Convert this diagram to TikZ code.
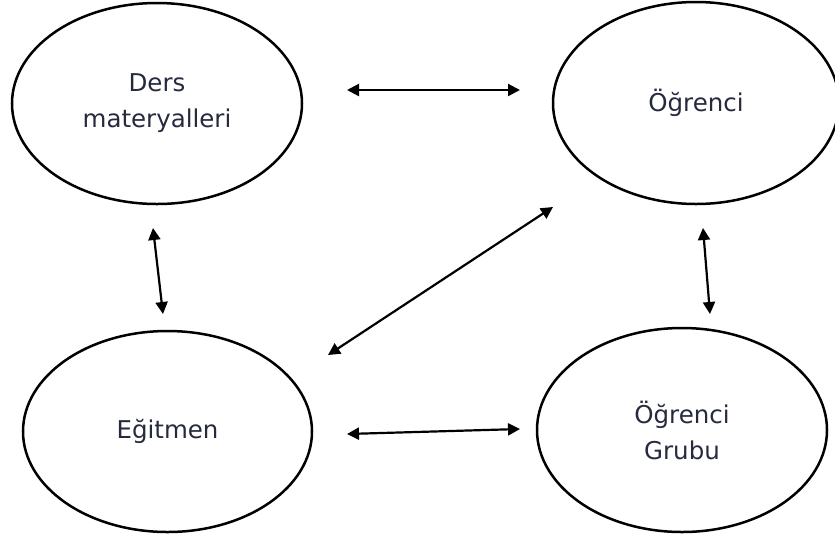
\documentclass[tikz,border=0pt]{standalone}
\usepackage{fontspec}
\setmainfont{DejaVu Sans}
\usetikzlibrary{shapes.geometric,arrows.meta}
\definecolor{txt}{RGB}{38,42,62}
\tikzset{
  oval/.style={draw=black, line width=2.5pt, ellipse, inner sep=0pt, align=center,
    text=txt, font=\fontsize{24.5}{36}\selectfont},
  link/.style={line width=2.2pt, {Triangle[length=12pt,width=12pt]}-{Triangle[length=12pt,width=12pt]}}
}
\begin{document}
\begin{tikzpicture}[x=1pt,y=-1pt]
\useasboundingbox (0,0) rectangle (835,539);
\node[oval, minimum width=290pt, minimum height=201pt] (ders) at (157,103.5) {Ders\\materyalleri};
\node[oval, minimum width=286pt, minimum height=202pt] (ogr) at (696,103) {Öğrenci};
\node[oval, minimum width=289pt, minimum height=201pt] (egt) at (167.5,431.5) {Eğitmen};
\node[oval, minimum width=290pt, minimum height=204pt] (grp) at (682,430) {Öğrenci\\Grubu};
\coordinate (a1) at (347,90);  \coordinate (b1) at (520,90);
\coordinate (a2) at (153,228); \coordinate (b2) at (163,314);
\coordinate (a3) at (703,228); \coordinate (b3) at (710,314);
\coordinate (a4) at (328,355); \coordinate (b4) at (553,207);
\coordinate (a5) at (347,434); \coordinate (b5) at (520,429);
\draw[link] (a1) -- (b1);
\draw[link] (a2) -- (b2);
\draw[link] (a3) -- (b3);
\draw[link] (a4) -- (b4);
\draw[link] (a5) -- (b5);
\end{tikzpicture}
\end{document}
